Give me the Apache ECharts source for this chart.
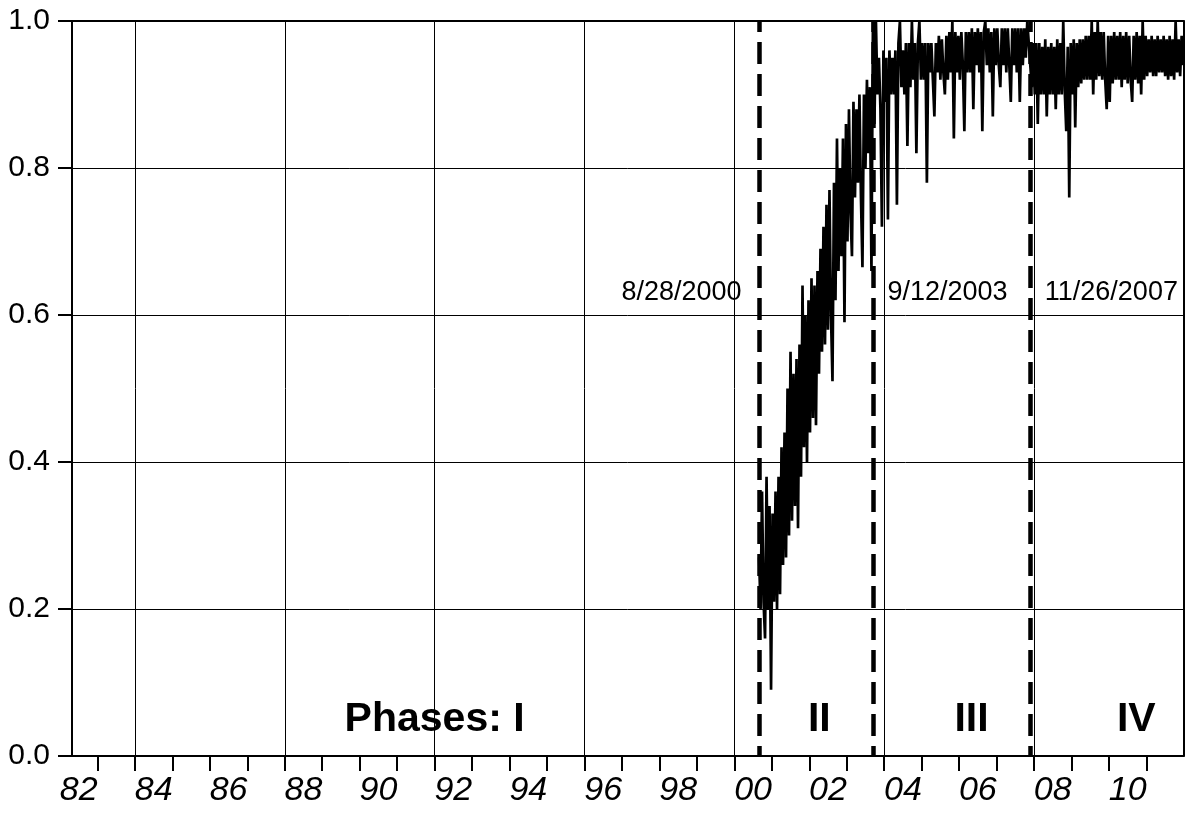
<!DOCTYPE html>
<html><head><meta charset="utf-8">
<script src="https://cdn.jsdelivr.net/npm/echarts@6/dist/echarts.min.js"></script>
<style>html,body{margin:0;padding:0;background:#fff}#chart{width:1186px;height:814px}</style>
</head><body><div id="chart"></div>
<script>
// ---- data ----
const seriesStart = 2000.66;   // first observation, 8/28/2000 (decimal year)
const seriesStep = 0.04;       // years between sampled observations
const shareValues = [
  0.27, 0.20, 0.36, 0.21, 0.16, 0.38, 0.20, 0.34, 0.09, 0.33,
  0.21, 0.36, 0.20, 0.38, 0.22, 0.42, 0.26, 0.44, 0.27, 0.50,
  0.30, 0.55, 0.32, 0.52, 0.34, 0.54, 0.31, 0.56, 0.38, 0.64,
  0.42, 0.60, 0.40, 0.62, 0.44, 0.65, 0.46, 0.64, 0.45, 0.66,
  0.52, 0.69, 0.55, 0.72, 0.56, 0.75, 0.58, 0.77, 0.60, 0.51,
  0.78, 0.62, 0.84, 0.66, 0.80, 0.68, 0.84, 0.59, 0.86, 0.70,
  0.88, 0.74, 0.68, 0.89, 0.76, 0.88, 0.78, 0.90, 0.76, 0.665,
  0.90, 0.80, 0.92, 0.82, 0.91, 0.66, 1.00, 0.86, 1.00, 0.90,
  0.95, 0.88, 0.72, 0.96, 0.89, 0.95, 0.73, 0.96, 0.90, 0.95,
  0.90, 0.96, 0.75, 0.97, 1.00, 0.91, 0.96, 0.90, 0.97, 0.83,
  0.97, 0.91, 1.00, 0.92, 0.97, 0.82, 0.97, 1.00, 0.92, 0.97,
  0.92, 0.97, 0.78, 0.97, 0.93, 0.97, 0.92, 0.87, 0.97, 0.93,
  0.98, 0.92, 0.975, 0.93, 0.90, 0.98, 0.92, 0.985, 0.93, 1.00,
  0.84, 0.985, 0.93, 0.98, 0.92, 0.985, 0.94, 0.85, 0.985, 0.93,
  0.985, 0.93, 0.99, 0.88, 0.985, 0.94, 0.99, 0.93, 0.985, 0.85,
  0.985, 1.00, 0.94, 0.99, 0.93, 0.985, 0.87, 0.99, 0.94, 0.99,
  0.94, 0.91, 0.99, 0.94, 0.99, 0.93, 0.99, 0.94, 0.89, 0.99,
  0.94, 0.99, 0.93, 0.99, 0.89, 0.99, 0.94, 0.99, 0.95, 1.00,
  1.00, 0.94, 0.91, 0.97, 0.90, 0.97, 0.86, 0.97, 0.90, 0.965,
  0.90, 0.975, 0.87, 0.965, 0.90, 0.97, 0.90, 0.965, 0.88, 0.975,
  0.90, 0.97, 0.90, 1.00, 0.905, 0.85, 0.965, 0.76, 0.97, 0.90,
  0.975, 0.855, 0.97, 0.91, 0.975, 0.915, 0.975, 0.92, 0.98, 0.92,
  0.98, 0.92, 1.00, 0.90, 0.985, 0.92, 1.00, 0.925, 0.985, 0.92,
  0.985, 0.92, 0.88, 0.98, 0.89, 0.98, 0.915, 0.985, 0.92, 0.98,
  0.92, 0.985, 0.91, 0.98, 0.92, 0.985, 0.915, 0.98, 0.92, 0.89,
  0.98, 0.92, 0.985, 0.915, 0.98, 0.90, 1.00, 0.92, 0.98, 0.925,
  0.975, 0.93, 0.98, 0.925, 0.975, 0.925, 0.98, 0.93, 0.975, 0.93,
  0.98, 0.925, 0.975, 0.92, 0.98, 0.925, 0.975, 0.92, 1.00, 0.93,
  0.975, 0.925, 0.98, 0.94
];
const axisStartYear = 1982.32;
const axisEndYear = 2011.99;
const yearTicks = [1983,1984,1985,1986,1987,1988,1989,1990,1991,1992,1993,1994,1995,1996,1997,
  1998,1999,2000,2001,2002,2003,2004,2005,2006,2007,2008,2009,2010,2011];
const labelYears = [1982,1984,1986,1988,1990,1992,1994,1996,1998,2000,2002,2004,2006,2008,2010];
const gridYears = [1984,1988,1992,1996,2000,2004,2008];
const breakDates = [2000.66, 2003.70, 2007.90];
const breakLabels = ['8/28/2000', '9/12/2003', '11/26/2007'];
const breakLabelLevel = 0.63;
const phaseNames = ['Phases: I', 'II', 'III', 'IV'];
const phaseCenters = [1992.0, 2002.27, 2006.33, 2010.73];
const phaseLabelLevel = 0.05;

// ---- chart ----
const chart = echarts.init(document.getElementById('chart'), null, {renderer: 'canvas'});
const black = '#000';
const mainData = shareValues.map((v, i) => [seriesStart + i * seriesStep, v]);

const option = {
  animation: false,
  backgroundColor: '#fff',
  grid: {left: 72, right: 2.5, top: 21, bottom: 58, containLabel: false},
  xAxis: [{
    type: 'value', min: axisStartYear, max: axisEndYear, position: 'bottom',
    axisLine: {show: true, onZero: false, lineStyle: {color: black, width: 2}},
    axisTick: {show: true, inside: false, length: 15, customValues: yearTicks, lineStyle: {color: black, width: 2}},
    axisLabel: {
      show: true, customValues: labelYears.map(y => y + 0.5), margin: 18,
      formatter: v => String(Math.floor(v) % 100).padStart(2, '0'),
      color: black, fontSize: 34, fontStyle: 'italic',
      fontFamily: '"Liberation Sans", Arial, sans-serif'
    },
    splitLine: {show: false}
  }, {
    type: 'value', min: axisStartYear, max: axisEndYear, position: 'top',
    axisLine: {show: true, onZero: false, lineStyle: {color: black, width: 2}},
    axisTick: {show: false}, axisLabel: {show: false}, splitLine: {show: false}
  }],
  yAxis: [{
    type: 'value', min: 0, max: 1, interval: 0.2, position: 'left',
    axisLine: {show: true, onZero: false, lineStyle: {color: black, width: 2}},
    axisTick: {show: true, inside: false, length: 14, lineStyle: {color: black, width: 2}},
    axisLabel: {
      show: true, margin: 22, formatter: v => v.toFixed(1), color: black, fontSize: 30,
      fontFamily: '"Liberation Sans", Arial, sans-serif'
    },
    splitLine: {show: true, lineStyle: {color: black, width: 1}}
  }, {
    type: 'value', min: 0, max: 1, position: 'right',
    axisLine: {show: true, onZero: false, lineStyle: {color: black, width: 2}},
    axisTick: {show: false}, axisLabel: {show: false}, splitLine: {show: false}
  }],
  series: [{
    name: 'grid', type: 'line', data: [], silent: true, z: 1,
    markLine: {
      silent: true, symbol: ['none', 'none'], label: {show: false}, animation: false,
      lineStyle: {color: black, width: 1, type: 'solid'},
      data: gridYears.map(y => ({xAxis: y}))
    }
  }, {
    name: 'share', type: 'line', data: mainData, showSymbol: false, symbol: 'none',
    sampling: null, z: 3, silent: true,
    lineStyle: {color: black, width: 2.7, join: 'miter', miterLimit: 3}
  }, {
    name: 'breaks', type: 'line', data: [], silent: true, z: 4,
    markLine: {
      silent: true, symbol: ['none', 'none'], animation: false,
      lineStyle: {color: black, width: 4.5, type: [22, 10], dashOffset: 12},
      label: {show: false},
      data: breakDates.map(d => ({xAxis: d}))
    },
    markPoint: {
      silent: true, animation: false, symbol: 'rect', symbolSize: 1,
      itemStyle: {color: 'rgba(0,0,0,0)'},
      data: breakDates.map((d, i) => ({
        coord: [d, breakLabelLevel], value: breakLabels[i],
        label: {
          show: true, formatter: breakLabels[i], position: i === 0 ? 'left' : 'right',
          distance: i === 0 ? 17 : 14, color: black, fontSize: 27,
          fontFamily: '"Liberation Sans", Arial, sans-serif'
        }
      }))
    }
  }, {
    name: 'phases', type: 'line', data: [], silent: true, z: 5,
    markPoint: {
      silent: true, animation: false, symbol: 'rect', symbolSize: 1,
      itemStyle: {color: 'rgba(0,0,0,0)'},
      data: phaseNames.map((p, i) => ({
        coord: [phaseCenters[i], phaseLabelLevel], value: p,
        label: {
          show: true, formatter: p, position: 'inside', color: black,
          fontSize: 41, fontWeight: 'bold',
          fontFamily: '"Liberation Sans", Arial, sans-serif'
        }
      }))
    }
  }]
};
chart.setOption(option);
</script>
</body></html>
